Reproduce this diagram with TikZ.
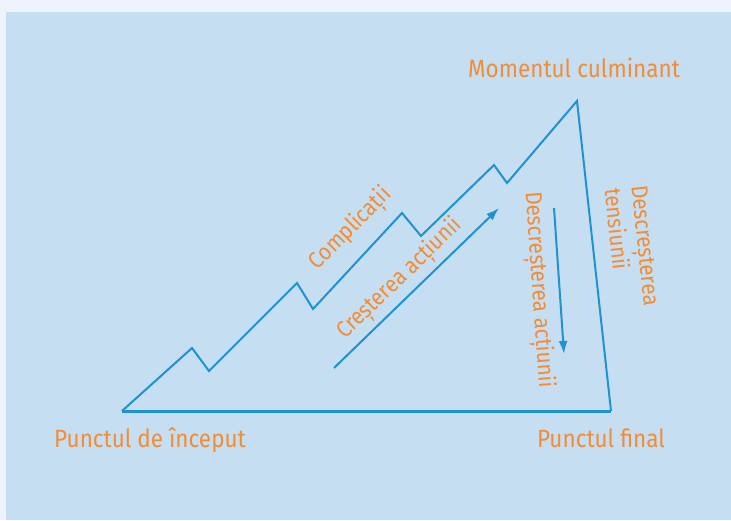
\documentclass[tikz,border=0pt]{standalone}
\usepackage{fontspec}
\setmainfont{Fira Sans}[FakeStretch=0.9]
\usepackage{xcolor}
\usepackage{tikz}
\usetikzlibrary{arrows.meta,positioning,calc}

\definecolor{pageblue}{HTML}{EEF4FC}
\definecolor{panelblue}{HTML}{C6DEF2}
\definecolor{plotblue}{HTML}{1E93D0}
\definecolor{plotorange}{HTML}{F28C35}

\begin{document}
\begin{tikzpicture}[
    x=1pt, y=-1pt,
    lbl/.style={text=plotorange, font=\fontsize{25}{28}\selectfont, inner sep=0pt},
    slantlbl/.style={lbl, font=\fontsize{23}{27}\selectfont},
    plotline/.style={draw=plotblue, line width=2pt, line join=miter},
    trendarrow/.style={draw=plotblue, line width=2pt, -{Latex[length=13pt,width=9pt]}}
]
    % background
    \fill[pageblue] (0,0) rectangle (731,520);
    \fill[panelblue] (6,12) rectangle (731,520);
    \useasboundingbox (0,0) rectangle (731,520);

    % corners of the triangle
    \coordinate (start) at (122,411); \coordinate (peak) at (577,101); \coordinate (final) at (611,411);
    \foreach \n/\px/\py in {p1/192/348, v1/209/371, p2/297/283, v2/313/309, p3/402/213, v3/421/236, p4/494/165, v4/507/183}
        \coordinate (\n) at (\px,\py);

    % rising action with complications, then falling line
    \draw[plotline] (start) -- (p1) -- (v1) -- (p2) -- (v2) -- (p3) -- (v3) -- (p4) -- (v4) -- (peak) -- (final);
    \draw[plotline, line width=3pt] (start) -- (final);

    % arrows
    \coordinate (upA) at (334,368); \coordinate (upB) at (499,208);
    \coordinate (downA) at (554,208); \coordinate (downB) at (564,354);
    \draw[trendarrow] (upA) -- (upB);
    \draw[trendarrow] (downA) -- (downB);

    % labels
    \node[lbl, anchor=base] (culm) at (574,77) {Momentul culminant};
    \node[lbl, anchor=base] (begin) at (150,447) {Punctul de început};
    \node[lbl, anchor=base] (end) at (601,447) {Punctul final};
    \node[slantlbl, rotate=45] (compl) at (351,229) {Complicații};
    \node[slantlbl, rotate=44] (rise) at (400,279) {Creșterea acțiunii};
    \node[slantlbl, rotate=-86] (fall) at (538,290) {Descreșterea acțiunii};
    \node[slantlbl, rotate=-84, align=left] (tens) at (632,247) {Descreșterea\\tensiunii};
\end{tikzpicture}
\end{document}
